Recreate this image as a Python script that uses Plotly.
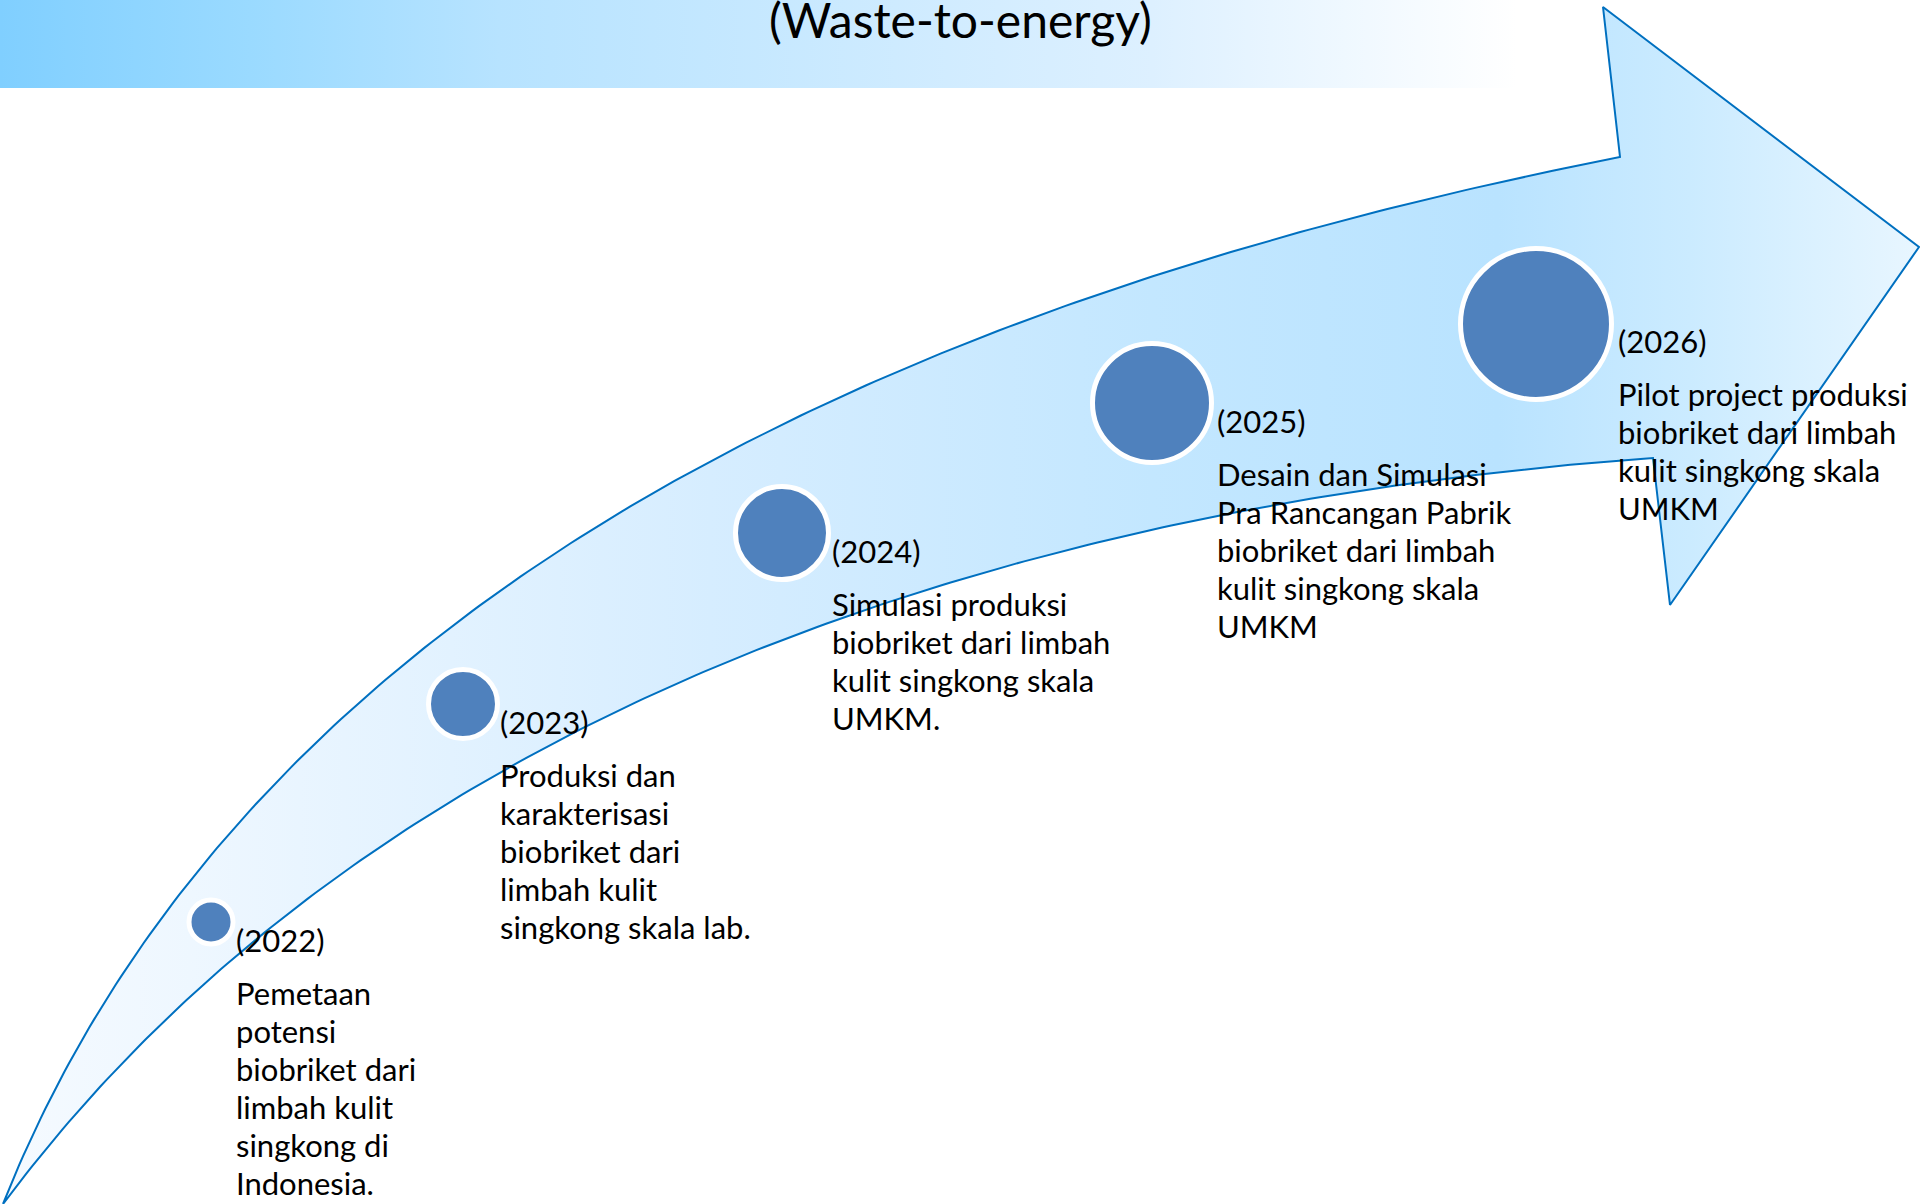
import numpy as np
import plotly.graph_objects as go

# ---------------- data ----------------
title_text = "(Waste-to-energy)"
years = ["(2022)", "(2023)", "(2024)", "(2025)", "(2026)"]
descriptions = [
    ["Pemetaan", "potensi", "biobriket dari", "limbah kulit", "singkong di", "Indonesia."],
    ["Produksi dan", "karakterisasi", "biobriket dari", "limbah kulit", "singkong skala lab."],
    ["Simulasi produksi", "biobriket dari limbah", "kulit singkong skala", "UMKM."],
    ["Desain dan Simulasi", "Pra Rancangan Pabrik", "biobriket dari limbah", "kulit singkong skala", "UMKM"],
    ["Pilot project produksi", "biobriket dari limbah", "kulit singkong skala", "UMKM"],
]
# milestone circles (pixel layout of the infographic)
circle_x = [211, 463, 782, 1152, 1536]
circle_y = [922, 704, 533, 403, 324]
circle_inner_r = [19.5, 32, 44, 57, 73]
ring_w = 5
label_x = [234, 498, 830, 1215, 1616]
year_y = [940, 722, 551, 421, 341]

# arrow outline reference points
upper_pts = [(3, 1204), (76, 1050), (190, 880), (432, 640), (700, 465), (900, 373),
             (1150, 279), (1375, 211), (1620, 157)]
lower_pts = [(3, 1204), (135, 1050), (333, 880), (587, 723), (787, 640), (1080, 549),
             (1440, 477), (1580, 464), (1653, 458)]
head_pts = [(1603, 7), (1919, 247), (1670, 605)]

W, H = 1920, 1204


def bezier_fit(pts, n=200):
    p = np.array(pts, dtype=float)
    d = np.r_[0, np.cumsum(np.hypot(*np.diff(p, axis=0).T))]
    t = d / d[-1]
    b0, b1, b2, b3 = (1 - t) ** 3, 3 * t * (1 - t) ** 2, 3 * t ** 2 * (1 - t), t ** 3
    rhs = p - np.outer(b0, p[0]) - np.outer(b3, p[-1])
    A = np.c_[b1, b2]
    ctrl, *_ = np.linalg.lstsq(A, rhs, rcond=None)
    P0, P1, P2, P3 = p[0], ctrl[0], ctrl[1], p[-1]
    s = np.linspace(0, 1, n)[:, None]
    return (1 - s) ** 3 * P0 + 3 * s * (1 - s) ** 2 * P1 + 3 * s ** 2 * (1 - s) * P2 + s ** 3 * P3


up = bezier_fit(upper_pts)
lo = bezier_fit(lower_pts)[::-1]
arrow = np.vstack([up, np.array(head_pts, dtype=float), lo])

fig = go.Figure()

# title band
fig.add_trace(go.Scatter(
    x=[0, W, W, 0, 0], y=[0, 0, 88, 88, 0], mode="lines", fill="toself",
    line=dict(width=0, color="rgba(0,0,0,0)"),
    fillgradient=dict(type="horizontal", start=0, stop=W,
                      colorscale=[[0, "#80CFFF"], [0.13, "#9ADAFF"], [0.26, "#B7E3FF"],
                                  [0.6, "#DDF0FF"], [0.7, "#EFF8FF"], [0.79, "#FFFFFF"],
                                  [1, "#FFFFFF"]]),
    hoverinfo="skip", showlegend=False))

# arrow
fig.add_trace(go.Scatter(
    x=arrow[:, 0], y=arrow[:, 1], mode="lines", fill="toself",
    line=dict(color="#0070C0", width=2),
    fillgradient=dict(type="horizontal", start=0, stop=W,
                      colorscale=[[0, "#F5FAFF"], [0.1, "#EEF7FF"], [0.37, "#D6EDFF"],
                                  [0.6, "#C3E7FF"], [0.78, "#B9E3FF"], [0.88, "#CBEBFF"],
                                  [1, "#E8F6FF"]]),
    hoverinfo="skip", showlegend=False))

# milestone circles
sizes = [2 * r + ring_w for r in circle_inner_r]
fig.add_trace(go.Scatter(
    x=circle_x, y=circle_y, mode="markers",
    marker=dict(size=sizes, color="#4F81BD", opacity=1,
                line=dict(color="#FFFFFF", width=ring_w)),
    hoverinfo="skip", showlegend=False))

font_family = "Lato, Carlito, Calibri, sans-serif"
fs = 31
annotations = [dict(x=W / 2, y=19, xref="x", yref="y", text=title_text, showarrow=False,
                    xanchor="center", yanchor="middle",
                    font=dict(family=font_family, size=48, color="#000000"))]
for i, yr in enumerate(years):
    annotations.append(dict(x=label_x[i], y=year_y[i], xref="x", yref="y", text=yr,
                            showarrow=False, xanchor="left", yanchor="middle",
                            font=dict(family=font_family, size=fs, color="#000000")))
    for j, line in enumerate(descriptions[i]):
        annotations.append(dict(x=label_x[i], y=year_y[i] + 53 + 38 * j, xref="x", yref="y",
                                text=line, showarrow=False, xanchor="left", yanchor="middle",
                                font=dict(family=font_family, size=fs, color="#000000")))

fig.update_layout(
    width=W, height=H, margin=dict(l=0, r=0, t=0, b=0),
    paper_bgcolor="white", plot_bgcolor="white",
    xaxis=dict(range=[0, W], visible=False, fixedrange=True),
    yaxis=dict(range=[H, 0], visible=False, fixedrange=True),
    annotations=annotations, showlegend=False,
)

fig.write_html("out.html")
